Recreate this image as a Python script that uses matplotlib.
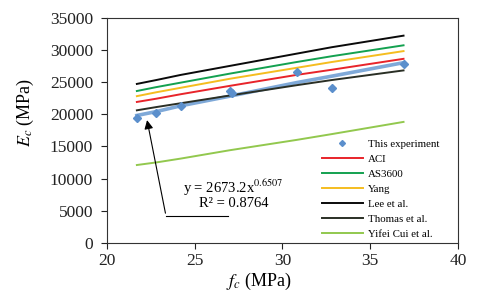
import matplotlib
matplotlib.use('Agg')
import matplotlib.pyplot as plt

plt.rcParams['font.family'] = ['Liberation Serif', 'DejaVu Serif']
plt.rcParams['mathtext.fontset'] = 'stix'

# compressive strength (MPa) of the tested specimens
fc = [21.7, 22.8, 24.2, 27.0, 27.1, 30.8, 32.8, 36.9]
ec_exp = [19350, 20250, 21250, 23650, 23350, 26600, 24000, 27750]

# model predictions, read at the specimen strengths
fc_model = [21.7, 22.8, 24.2, 27.0, 30.8, 32.8, 36.9]
aci = [21900, 22400, 23100, 24400, 26100, 26900, 28600]
as3600 = [23600, 24200, 24900, 26300, 28100, 29000, 30700]
yang = [22800, 23400, 24100, 25500, 27200, 28100, 29800]
lee = [24700, 25300, 26100, 27500, 29400, 30400, 32200]
thomas = [20600, 21100, 21700, 22900, 24500, 25300, 26800]
cui = [12100, 12500, 13100, 14400, 16000, 16900, 18800]
trend = [19800, 20400, 21300, 22800, 24900, 25900, 28000]

fig = plt.figure(figsize=(4.8, 3.04), dpi=100)
ax = fig.add_axes([0.223, 0.201, 0.731, 0.741])

ax.plot(fc_model, trend, color='#7fa9d8', lw=2.6, zorder=2)
ax.plot(fc, ec_exp, ls='none', marker='D', ms=4, color='#5b8fcc', label='This experiment', zorder=4)
ax.plot(fc_model, aci, color='#e8242a', lw=1.4, label='ACI')
ax.plot(fc_model, as3600, color='#13a150', lw=1.4, label='AS3600')
ax.plot(fc_model, yang, color='#f5bd1f', lw=1.4, label='Yang')
ax.plot(fc_model, lee, color='#0a0a0a', lw=1.4, label='Lee et al.')
ax.plot(fc_model, thomas, color='#2a2f25', lw=1.4, label='Thomas et al.')
ax.plot(fc_model, cui, color='#92c84e', lw=1.4, label='Yifei Cui et al.')

ax.set_xlim(20, 40)
ax.set_ylim(0, 35000)
ax.set_xticks([20, 25, 30, 35, 40])
ax.set_yticks(range(0, 35001, 5000))
ax.tick_params(direction='out', length=4, width=0.8, labelsize=12.5, colors='#222222', pad=3)
ax.tick_params(axis='y', pad=6)
for s in ax.spines.values():
    s.set_color('#333333')
    s.set_linewidth(0.8)

ax.set_xlabel('$f_c$ (MPa)', fontsize=13, va='center')
ax.set_ylabel('$E_c$ (MPa)', fontsize=13, va='center')
ax.xaxis.set_label_coords(0.433, -0.173)
ax.yaxis.set_label_coords(-0.232, 0.579)

ax.text(27.2, 8500, 'y = 2673.2x$^{0.6507}$', fontsize=10.5, ha='center', va='center')
ax.text(27.2, 6050, 'R² = 0.8764', fontsize=10.5, ha='center', va='center')
ax.plot([23.36, 26.9], [4190, 4190], color='black', lw=0.8)
ax.annotate('', xy=(22.25, 19500), xytext=(23.36, 4190),
            arrowprops=dict(arrowstyle='-|>', color='black', lw=0.8, mutation_scale=13))

ax.legend(loc='lower left', bbox_to_anchor=(0.599, 0.0), frameon=False, fontsize=7.8,
          handlelength=3.8, labelspacing=0.5, handletextpad=0.45, borderaxespad=0,
          markerscale=0.75)

fig.savefig('out.png', dpi=100)
plt.close(fig)
